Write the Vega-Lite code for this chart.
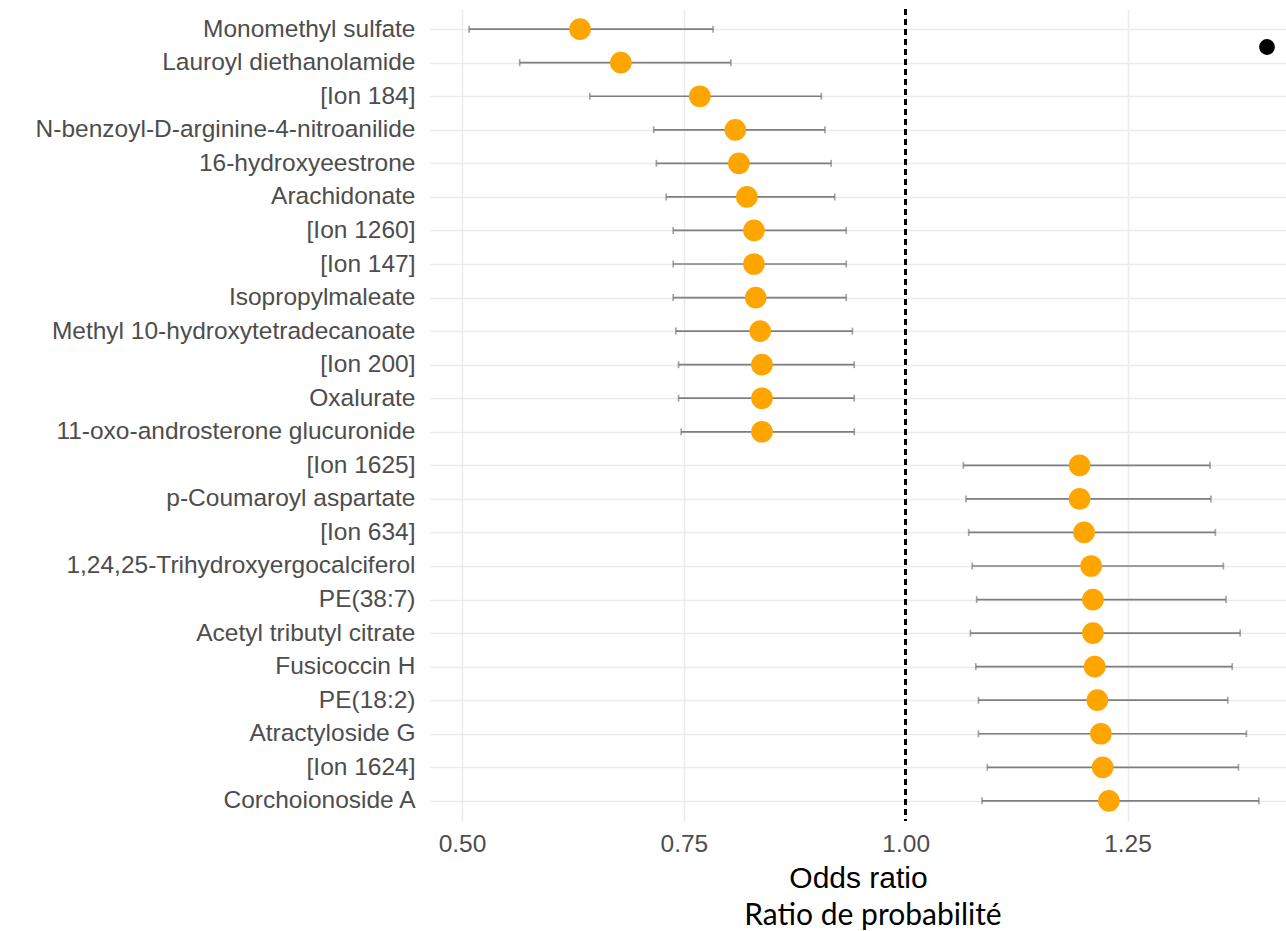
{
  "$schema": "https://vega.github.io/schema/vega-lite/v6.json",
  "autosize": {"type": "none"},
  "padding": {"left": 430, "top": 9, "right": 0, "bottom": 110},
  "width": 856,
  "height": 812,
  "config": {
    "view": {"stroke": null},
    "font": "Liberation Sans",
    "axis": {"domain": false, "ticks": false, "gridColor": "#ebebeb", "gridWidth": 1.5, "labelColor": "#4d4d4d", "labelFont": "Liberation Sans", "labelFontSize": 24.5}
  },
  "title": {"text": "Ratio de probabilité", "orient": "bottom", "anchor": "middle", "font": "Lato", "fontSize": 30, "fontWeight": "normal", "color": "#000000", "offset": 7, "dx": 15},
  "data": {"values": [
    {"name": "Monomethyl sulfate", "or": 0.633, "lo": 0.508, "hi": 0.783},
    {"name": "Lauroyl diethanolamide", "or": 0.679, "lo": 0.565, "hi": 0.803},
    {"name": "[Ion 184]", "or": 0.768, "lo": 0.644, "hi": 0.905},
    {"name": "N-benzoyl-D-arginine-4-nitroanilide", "or": 0.808, "lo": 0.716, "hi": 0.909},
    {"name": "16-hydroxyeestrone", "or": 0.812, "lo": 0.719, "hi": 0.916},
    {"name": "Arachidonate", "or": 0.821, "lo": 0.730, "hi": 0.920},
    {"name": "[Ion 1260]", "or": 0.829, "lo": 0.738, "hi": 0.933},
    {"name": "[Ion 147]", "or": 0.829, "lo": 0.738, "hi": 0.933},
    {"name": "Isopropylmaleate", "or": 0.831, "lo": 0.738, "hi": 0.933},
    {"name": "Methyl 10-hydroxytetradecanoate", "or": 0.836, "lo": 0.741, "hi": 0.940},
    {"name": "[Ion 200]", "or": 0.838, "lo": 0.744, "hi": 0.942},
    {"name": "Oxalurate", "or": 0.838, "lo": 0.744, "hi": 0.942},
    {"name": "11-oxo-androsterone glucuronide", "or": 0.838, "lo": 0.747, "hi": 0.942},
    {"name": "[Ion 1625]", "or": 1.196, "lo": 1.065, "hi": 1.343},
    {"name": "p-Coumaroyl aspartate", "or": 1.196, "lo": 1.068, "hi": 1.344},
    {"name": "[Ion 634]", "or": 1.201, "lo": 1.071, "hi": 1.349},
    {"name": "1,24,25-Trihydroxyergocalciferol", "or": 1.209, "lo": 1.075, "hi": 1.358},
    {"name": "PE(38:7)", "or": 1.211, "lo": 1.080, "hi": 1.361},
    {"name": "Acetyl tributyl citrate", "or": 1.211, "lo": 1.073, "hi": 1.377},
    {"name": "Fusicoccin H", "or": 1.213, "lo": 1.079, "hi": 1.368},
    {"name": "PE(18:2)", "or": 1.216, "lo": 1.082, "hi": 1.363},
    {"name": "Atractyloside G", "or": 1.220, "lo": 1.082, "hi": 1.384},
    {"name": "[Ion 1624]", "or": 1.222, "lo": 1.092, "hi": 1.375},
    {"name": "Corchoionoside A", "or": 1.229, "lo": 1.086, "hi": 1.398}
  ]},
  "encoding": {
    "y": {"field": "name", "type": "nominal", "sort": null,
      "scale": {"type": "point", "padding": 0.6},
      "axis": {"title": null, "grid": true, "labelPadding": 15, "labelLimit": 600}}
  },
  "layer": [
    {
      "mark": {"type": "rule", "color": "#7f7f7f", "strokeWidth": 1.7},
      "encoding": {
        "x": {"field": "lo", "type": "quantitative",
          "scale": {"domain": [0.4639, 1.4286], "nice": false, "zero": false},
          "axis": {"title": "Odds ratio", "values": [0.5, 0.75, 1, 1.25], "format": ".2f", "grid": true, "labelPadding": 11,
            "titleFont": "Liberation Sans", "titleFontSize": 30, "titleFontWeight": "normal", "titleColor": "#000000", "titlePadding": 8}},
        "x2": {"field": "hi"}
      }
    },
    {
      "mark": {"type": "tick", "color": "#7f7f7f", "thickness": 1.7, "size": 7, "orient": "vertical"},
      "encoding": {"x": {"field": "lo", "type": "quantitative"}}
    },
    {
      "mark": {"type": "tick", "color": "#7f7f7f", "thickness": 1.7, "size": 7, "orient": "vertical"},
      "encoding": {"x": {"field": "hi", "type": "quantitative"}}
    },
    {
      "mark": {"type": "rule", "color": "#000000", "strokeWidth": 1.8, "strokeDash": [6, 4]},
      "encoding": {"x": {"datum": 1}, "y": {"value": 0}, "y2": {"value": 812}}
    },
    {
      "mark": {"type": "point", "filled": true, "color": "#FFA500", "opacity": 1, "size": 470},
      "encoding": {
        "x": {"field": "or", "type": "quantitative"}
      }
    },
    {
      "mark": {"type": "point", "filled": true, "color": "#000000", "opacity": 0, "size": 0},
      "encoding": {
        "x": {"field": "or", "type": "quantitative"},
        "shape": {"datum": "a", "scale": {"range": ["circle"]},
          "legend": {"title": null, "labelExpr": "''", "orient": "none", "legendX": 829, "legendY": 30, "symbolSize": 250,
            "symbolOpacity": 1, "symbolFillColor": "#000000", "symbolStrokeWidth": 0, "labelFontSize": 1}}
      }
    }
  ]
}
